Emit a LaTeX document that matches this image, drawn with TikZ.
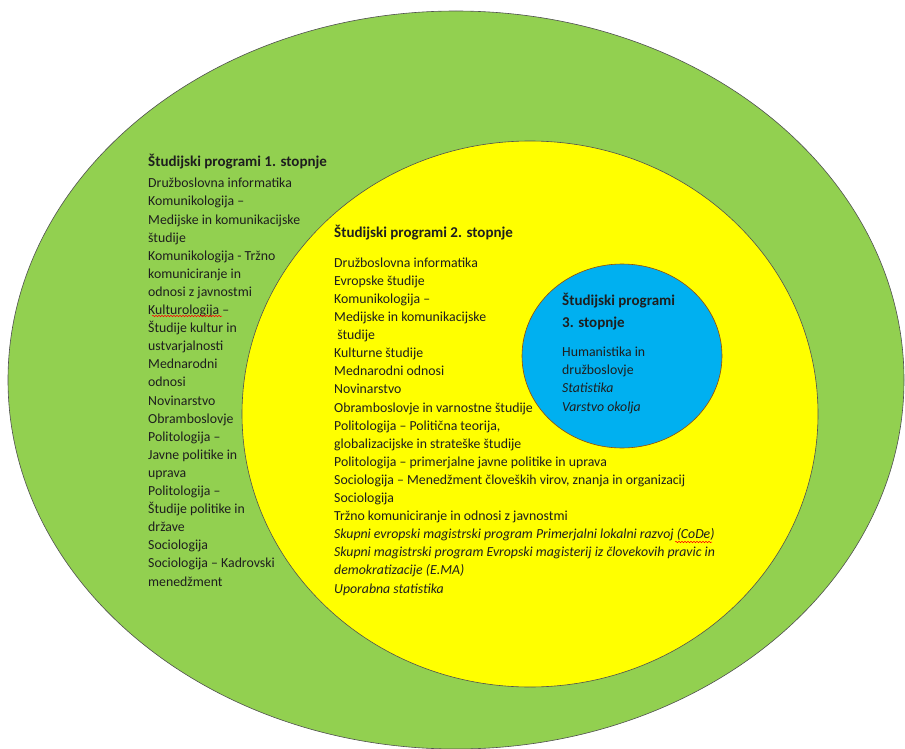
\documentclass[tikz,border=0pt]{standalone}
\usepackage{fontspec}
\setmainfont{Carlito}
\usetikzlibrary{positioning,decorations.pathmorphing}

\definecolor{ringgreen}{HTML}{92D050}
\definecolor{ringyellow}{HTML}{FFFF00}
\definecolor{ringblue}{HTML}{00B0F0}
\definecolor{ringedge}{HTML}{505050}
\definecolor{txt}{HTML}{1E1E1E}

% multi-line nodes sit on the baseline of their last line
\tikzset{
  ring/.style={draw=ringedge, line width=0.6pt},
  leveltitle/.style={font=\fontsize{15}{22}\selectfont\bfseries, text=txt,
    inner sep=0pt, anchor=base west, align=left},
  programlist/.style={font=\fontsize{13.8}{18.1}\selectfont, text=txt,
    inner sep=0pt, anchor=base west, align=left},
  spellmark/.style={draw=red, line width=0.5pt, decorate,
    decoration={snake, amplitude=0.7pt, segment length=3pt}},
}

\begin{document}
\begin{tikzpicture}[x=1pt, y=-1pt]
  \useasboundingbox (0,0) rectangle (905,749);
  \fill[white] (0,0) rectangle (905,749);

  % the three levels
  \draw[ring, fill=ringgreen] (456,380) ellipse [x radius=448, y radius=369];
  \draw[ring, fill=ringyellow] (530,414) ellipse [x radius=288, y radius=273];
  \draw[ring, draw=orange!60!black, fill=ringblue] (622,356) ellipse [x radius=100, y radius=92];

  % 1. stopnja
  \node[leveltitle] (t1) at (148,167) {Študijski programi 1. stopnje};
  \node[programlist] (l1) at (148,586) {Družboslovna informatika\\
    Komunikologija --\\
    Medijske in komunikacijske\\
    študije\\
    Komunikologija - Tržno\\
    komuniciranje in\\
    odnosi z javnostmi\\
    Kulturologija --\\
    Študije kultur in\\
    ustvarjalnosti\\
    Mednarodni\\
    odnosi\\
    Novinarstvo\\
    Obramboslovje\\
    Politologija --\\
    Javne politike in\\
    uprava\\
    Politologija --\\
    Študije politike in\\
    države\\
    Sociologija\\
    Sociologija -- Kadrovski\\
    menedžment};

  % 2. stopnja
  \node[leveltitle] (t2) at (334,237) {Študijski programi 2. stopnje};
  \node[programlist] (l2) at (334,593) {Družboslovna informatika\\
    Evropske študije\\
    Komunikologija --\\
    Medijske in komunikacijske\\
    \ študije\\
    Kulturne študije\\
    Mednarodni odnosi\\
    Novinarstvo\\
    Obramboslovje in varnostne študije\\
    Politologija -- Politična teorija,\\
    globalizacijske in strateške študije\\
    Politologija -- primerjalne javne politike in uprava\\
    Sociologija -- Menedžment človeških virov, znanja in organizacij\\
    Sociologija\\
    Tržno komuniciranje in odnosi z javnostmi\\
    \textit{Skupni evropski magistrski program Primerjalni lokalni razvoj (CoDe)}\\
    \textit{Skupni magistrski program Evropski magisterij iz človekovih pravic in}\\
    \textit{demokratizacije (E.MA)}\\
    \textit{Uporabna statistika}};

  % 3. stopnja
  \node[leveltitle] (t3) at (562,327) {Študijski programi\\3. stopnje};
  \node[programlist] (l3) at (562,411) {Humanistika in\\
    družboslovje\\
    \textit{Statistika}\\
    \textit{Varstvo okolja}};

  % spell-check marks
  \coordinate (k1) at (152,316);
  \coordinate (k2) at (222,316);
  \coordinate (c1) at (675,542);
  \coordinate (c2) at (712,542);
  \draw[spellmark] (k1) -- (k2);
  \draw[spellmark] (c1) -- (c2);
\end{tikzpicture}
\end{document}
